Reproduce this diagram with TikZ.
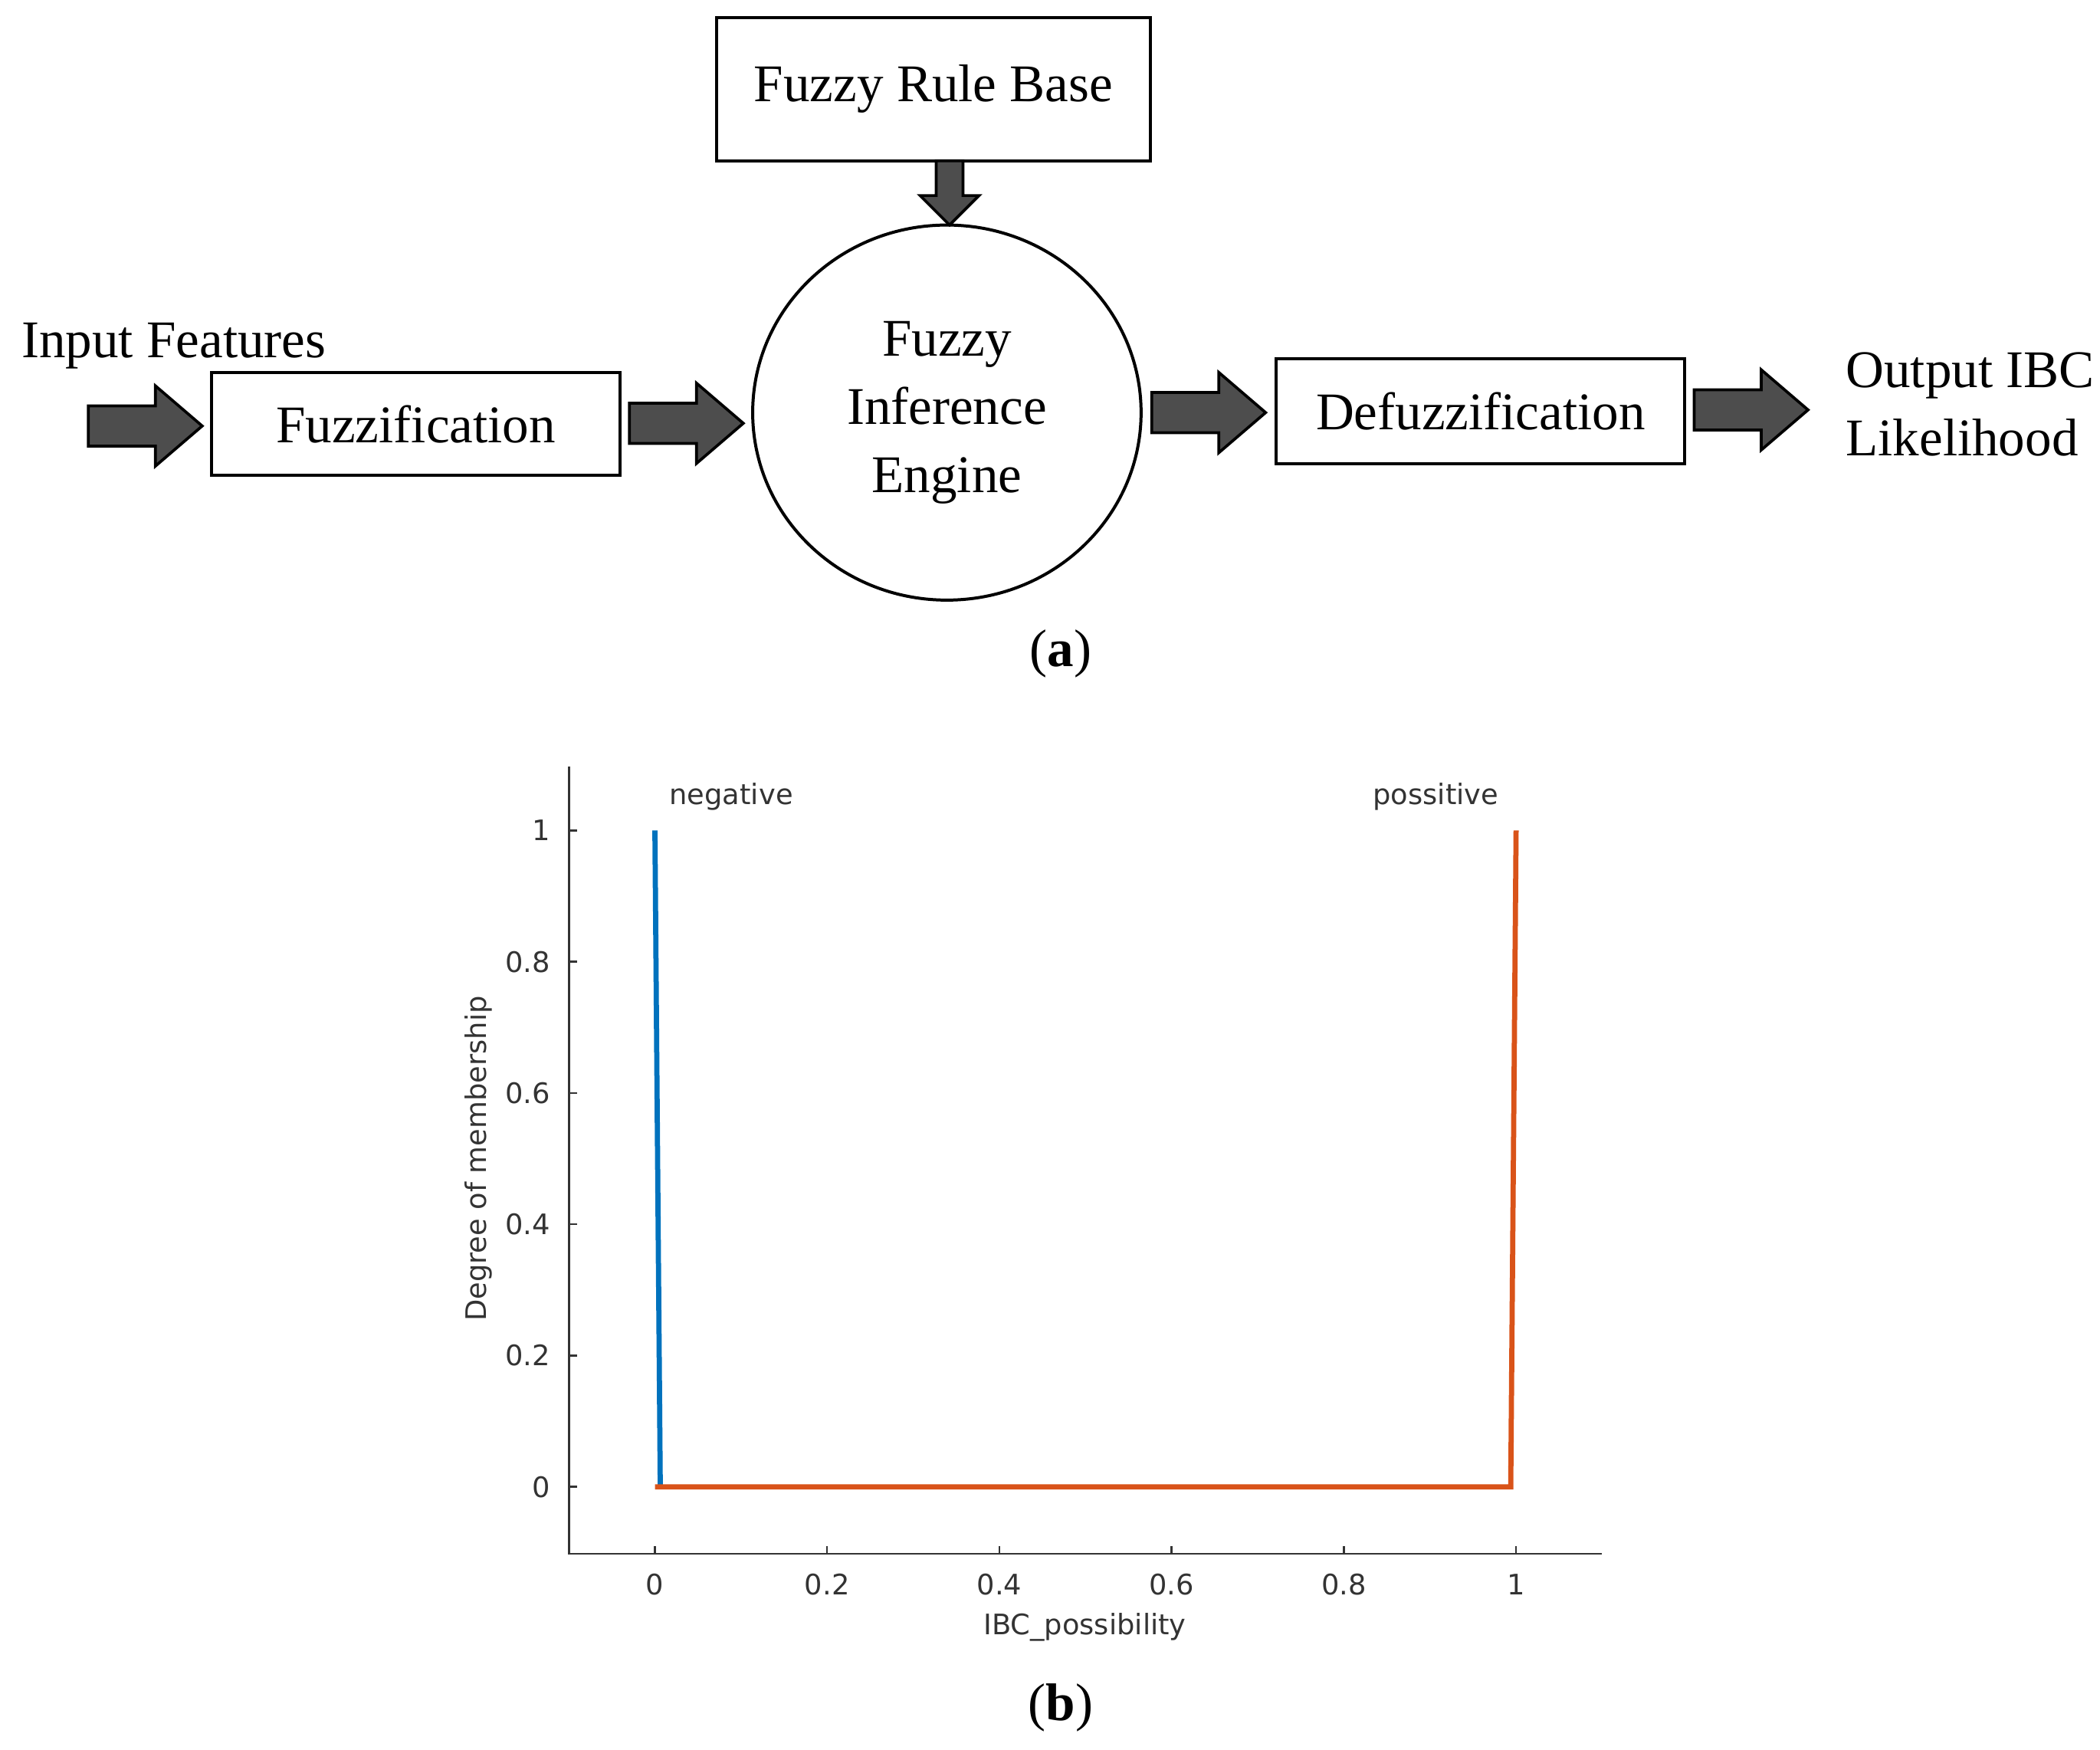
\documentclass[tikz,border=0pt]{standalone}
\usepackage{fontspec}
\usetikzlibrary{shapes.geometric}
\setmainfont{Liberation Serif}
\newfontfamily\plotfont{DejaVu Sans}
\definecolor{mblue}{RGB}{0,114,189}
\definecolor{morange}{RGB}{217,83,25}
\definecolor{agray}{RGB}{77,77,77}
\begin{document}
\begin{tikzpicture}[x=0.02cm,y=-0.02cm,
  box/.style={draw,line width=1.3pt,inner sep=0pt,font=\fontsize{22.5}{25}\selectfont},
  lbl/.style={font=\fontsize{22.5}{29}\selectfont,align=center},
  plab/.style={font=\plotfont\fontsize{12}{14}\selectfont,text=black!80},
  barrow/.pic={\draw[fill=agray,line width=1.2pt,line join=miter] (0,-15)--(50,-15)--(50,-30)--(85,0)--(50,30)--(50,15)--(0,15)--cycle;},
  sarrow/.pic={\draw[fill=agray,line width=1.2pt,line join=miter] (0,-10)--(26,-10)--(26,-22)--(48,0)--(26,22)--(26,10)--(0,10)--cycle;}]
\useasboundingbox (0,0) rectangle (1568,1306);
% (a)
\node[box,minimum width=324*0.02cm,minimum height=107*0.02cm] (rb) at (697,66.5) {Fuzzy Rule Base};
\node[box,minimum width=305*0.02cm,minimum height=77*0.02cm] (fz) at (310.5,316.5) {Fuzzification};
\node[box,minimum width=305*0.02cm,minimum height=78*0.02cm] (df) at (1105.5,307) {Defuzzification};
\node[draw,line width=1.3pt,ellipse,minimum width=290*0.02cm,minimum height=280*0.02cm,inner sep=0pt] (fie) at (707,308) {};
\node[lbl] (fiet) at (707,308) {Fuzzy\\Inference\\Engine};
\node[lbl,anchor=west] (inp) at (10,258) {Input Features};
\node[lbl,anchor=west,align=left] (out) at (1372,302) {Output IBC\\Likelihood};
\node[lbl] (a) at (792,488) {(\textbf{a})};
\pic at (66,318) {barrow};
\pic at (470,316) {barrow};
\pic at (860,308) {barrow};
\pic at (1265,306) {barrow};
\pic[rotate=-90] at (709,120) {sarrow};
% (b) plot
\draw[line width=0.8pt,black!80] (425,572)--(425,1160)--(1196,1160);
\foreach \v/\l in {0/0,0.2/0.2,0.4/0.4,0.6/0.6,0.8/0.8,1/1}{
  \draw[line width=0.8pt,black!80] (425,1110-490*\v)--(431,1110-490*\v);
  \node[plab,anchor=east] at (417,1110-490*\v) {\l};
  \draw[line width=0.8pt,black!80] (489+643*\v,1160)--(489+643*\v,1154);
  \node[plab] at (489+643*\v,1183) {\l};
}
\node[plab] (xl) at (810,1215) {IBC\_possibility};
\node[plab,rotate=90] (yl) at (357,865) {Degree of membership};
\node[plab] (neg) at (546,595) {negative};
\node[plab] (pos) at (1072,595) {possitive};
\draw[mblue,line width=2.2pt] (489,620)--(493,1110);
\draw[morange,line width=2.2pt] (489,1110)--(1128,1110)--(1132,620);
\node[lbl] (b) at (792,1275) {(\textbf{b})};
\end{tikzpicture}
\end{document}
